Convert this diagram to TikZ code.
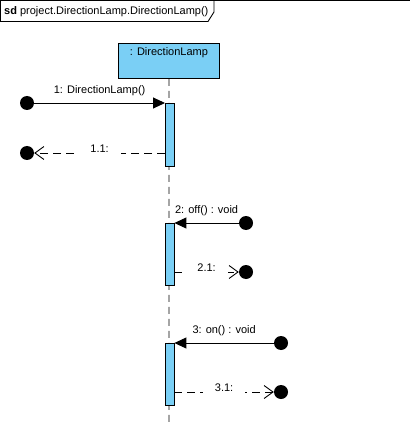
\documentclass[tikz,border=0pt]{standalone}
\usepackage{fontspec}
\setmainfont{Liberation Sans}
\usetikzlibrary{arrows.meta}
\definecolor{lampblue}{RGB}{122,207,245}
\tikzset{
  lifebox/.style={draw=black, fill=lampblue, line width=0.9pt},
  actbar/.style={draw=black, fill=lampblue, line width=0.9pt},
  lifeline/.style={line width=0.9pt, dash pattern=on 7pt off 5pt},
  enddot/.style={circle, fill=black, minimum size=14pt, inner sep=0pt},
  callmsg/.style={line width=0.9pt, -{Triangle[length=12pt,width=11pt]}},
  retmsg/.style={line width=0.9pt, dash pattern=on 8pt off 5pt, -{Straight Barb[length=9pt,width=13pt,line width=0.9pt]}},
  msgtext/.style={font=\fontsize{11}{13}\selectfont, inner sep=1pt},
  rettext/.style={font=\fontsize{11}{13}\selectfont, fill=white, inner xsep=12pt, inner ysep=3pt}
}
\begin{document}
\begin{tikzpicture}[x=1pt,y=-1pt]
\useasboundingbox (0,0) rectangle (410,438);

% frame with its name tab
\draw[line width=0.9pt] (0,0.5) -- (410,0.5);
\draw[line width=0.9pt] (0.5,0.5) -- (0.5,21.5) -- (208,21.5) -- (214,12) -- (214,0.5);
\node[anchor=west, inner sep=0pt, font=\fontsize{11}{13}\selectfont] (frametitle) at (4,11.5)
  {\textbf{sd} project.DirectionLamp.DirectionLamp()};

% lifeline head and dashed lifeline
\node[lifebox, minimum width=101pt, minimum height=35pt, anchor=north west, inner sep=0pt] (lamp) at (118,43) {};
\node[anchor=north, inner sep=0pt, font=\fontsize{11}{13}\selectfont] (lamptext) at (lamp.north) [yshift=-4pt] {: DirectionLamp};
\coordinate (lifeend) at (169,426);
\draw[lifeline] (lamp.south) -- (lifeend);

% activation bars
\node[actbar, minimum width=8.5pt, minimum height=63pt, anchor=north west, inner sep=0pt] (act1) at (165,103) {};
\node[actbar, minimum width=8.5pt, minimum height=62pt, anchor=north west, inner sep=0pt] (act2) at (165,223) {};
\node[actbar, minimum width=8.5pt, minimum height=62pt, anchor=north west, inner sep=0pt] (act3) at (165,343) {};

% message end points
\node[enddot] (d1) at (27,103) {};
\node[enddot] (d11) at (27,153) {};
\node[enddot] (d2) at (246,223) {};
\node[enddot] (d21) at (246,272) {};
\node[enddot] (d3) at (281,343) {};
\node[enddot] (d31) at (281,392) {};

% message 1 and its return
\draw[callmsg] (d1) -- (act1.north west)
  node[msgtext, midway, above=6pt] (m1) {1: DirectionLamp()};
\draw[retmsg] (act1.west |- d11) -- (d11)
  node[rettext, midway, yshift=4pt] (r1) {1.1:};

% message 2 and its return
\draw[callmsg] (d2) -- (act2.north east)
  node[msgtext, midway, above=6pt] (m2) {2: off() : void};
\draw[retmsg] (act2.east |- d21) -- (d21)
  node[rettext, midway, yshift=4pt] (r2) {2.1:};

% message 3 and its return
\draw[callmsg] (d3) -- (act3.north east)
  node[msgtext, midway, above=6pt] (m3) {3: on() : void};
\draw[retmsg] (act3.east |- d31) -- (d31)
  node[rettext, midway, yshift=4pt] (r3) {3.1:};
\end{tikzpicture}
\end{document}
